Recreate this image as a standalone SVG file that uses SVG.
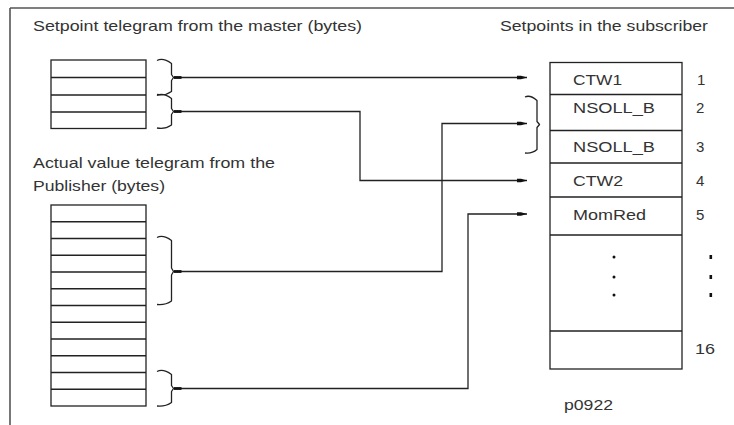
<svg xmlns="http://www.w3.org/2000/svg" width="734" height="425" viewBox="0 0 734 425">
<defs>
<style>
text{font-family:"Liberation Sans",Arial,sans-serif;font-size:15px;fill:#333}
.box{fill:#fff;stroke:#222;stroke-width:1.3}
.ln{fill:none;stroke:#222;stroke-width:1.3}
.br{fill:none;stroke:#222;stroke-width:1.3;stroke-linejoin:round}
.con{fill:none;stroke:#222;stroke-width:1.3;marker-end:url(#ah);marker-start:url(#tail)}
.frame{fill:none;stroke:#555;stroke-width:1.6}
</style>
<marker id="ah" markerUnits="userSpaceOnUse" markerWidth="11" markerHeight="6" refX="10" refY="3" orient="auto">
<path d="M0,1.2 L4,1.2 L10,3 L4,4.8 L0,4.8 z" fill="#111"/>
</marker>
<marker id="tail" markerUnits="userSpaceOnUse" markerWidth="9" markerHeight="4" refX="0" refY="2" orient="auto">
<rect x="0" y="0.6" width="8" height="2.8" fill="#111"/>
</marker>
</defs>

<g id="frame">
<path class="frame" d="M10,8 H734 M10,8 V425"/>
</g>

<g id="labels">
<text x="33" y="31" textLength="329" lengthAdjust="spacingAndGlyphs">Setpoint telegram from the master (bytes)</text>
<text x="500" y="31" textLength="208" lengthAdjust="spacingAndGlyphs">Setpoints in the subscriber</text>
<text x="33" y="167.5" textLength="242" lengthAdjust="spacingAndGlyphs">Actual value telegram from the</text>
<text x="33" y="190.5" textLength="132" lengthAdjust="spacingAndGlyphs">Publisher (bytes)</text>
<text x="564" y="409.5" textLength="49" lengthAdjust="spacingAndGlyphs">p0922</text>
</g>

<g id="master-telegram">
<rect class="box" x="51" y="60" width="95" height="68.5"/>
<path class="ln" d="M51,77.5 H146 M51,95 H146 M51,112 H146"/>
</g>

<g id="publisher-telegram">
<rect class="box" x="51" y="205" width="95" height="201"/>
<path class="ln" d="M51,221.75 H146 M51,238.5 H146 M51,255.25 H146 M51,272 H146 M51,288.75 H146 M51,305.5 H146 M51,322.25 H146 M51,339 H146 M51,355.75 H146 M51,372.5 H146 M51,389.25 H146"/>
</g>

<g id="braces">
<path class="br" d="M157,60.5 c4,-2 9,-1 14.5,3 V74.5 l2,3 l-2,3 V91.5 c-5,3.5 -10,4 -14.5,3"/>
<path class="br" d="M157,95.5 c4,-2 9,-1 14.5,3 V108.5 l2,3 l-2,3 V125 c-5,3.5 -10,4 -14.5,3"/>
<path class="br" d="M157,237.5 c4,-2 9,-1 14.5,3 V268 l2,3.5 l-2,3.5 V301 c-5,3.5 -10,4 -14.5,3.5"/>
<path class="br" d="M157,371.5 c4,-2 9,-1 14.5,3 V385.5 l2,3 l-2,3 V402.5 c-5,3.5 -10,4 -14.5,3.5"/>
<path class="br" d="M525,97 c4,-2 8,0 12,3.5 V121.5 l2.5,3 l-2.5,3 V149.5 c-4,3.5 -8,4 -12,3.5"/>
</g>

<g id="subscriber">
<rect class="box" x="550" y="62.5" width="132" height="306.5"/>
<path class="ln" d="M550,94.5 H682 M550,130.5 H682 M550,163 H682 M550,197 H682 M550,235 H682 M550,331 H682"/>
<text x="573" y="85" textLength="49" lengthAdjust="spacingAndGlyphs">CTW1</text>
<text x="573" y="113" textLength="82" lengthAdjust="spacingAndGlyphs">NSOLL_B</text>
<text x="573" y="151.5" textLength="82" lengthAdjust="spacingAndGlyphs">NSOLL_B</text>
<text x="573" y="186" textLength="50" lengthAdjust="spacingAndGlyphs">CTW2</text>
<text x="573" y="220" textLength="73" lengthAdjust="spacingAndGlyphs">MomRed</text>
<text x="697" y="85">1</text>
<text x="696" y="113">2</text>
<text x="696" y="151.5">3</text>
<text x="696" y="186">4</text>
<text x="696" y="220">5</text>
<text x="695" y="354" textLength="20" lengthAdjust="spacingAndGlyphs">16</text>
<g fill="#111">
<circle cx="614" cy="257" r="1.5"/>
<circle cx="614" cy="277" r="1.5"/>
<circle cx="614" cy="295" r="1.5"/>
<rect x="709.5" y="255" width="2.6" height="4"/>
<rect x="709.5" y="275" width="2.6" height="4"/>
<rect x="709.5" y="293" width="2.6" height="4"/>
</g>
</g>

<g id="connectors">
<path class="con" d="M173.5,77.5 H527"/>
<path class="con" d="M173.5,111.5 H360 V180.5 H527"/>
<path class="con" d="M173.5,271.5 H442 V123.5 H527"/>
<path class="con" d="M173.5,388.5 H468 V214 H527"/>
</g>
</svg>
